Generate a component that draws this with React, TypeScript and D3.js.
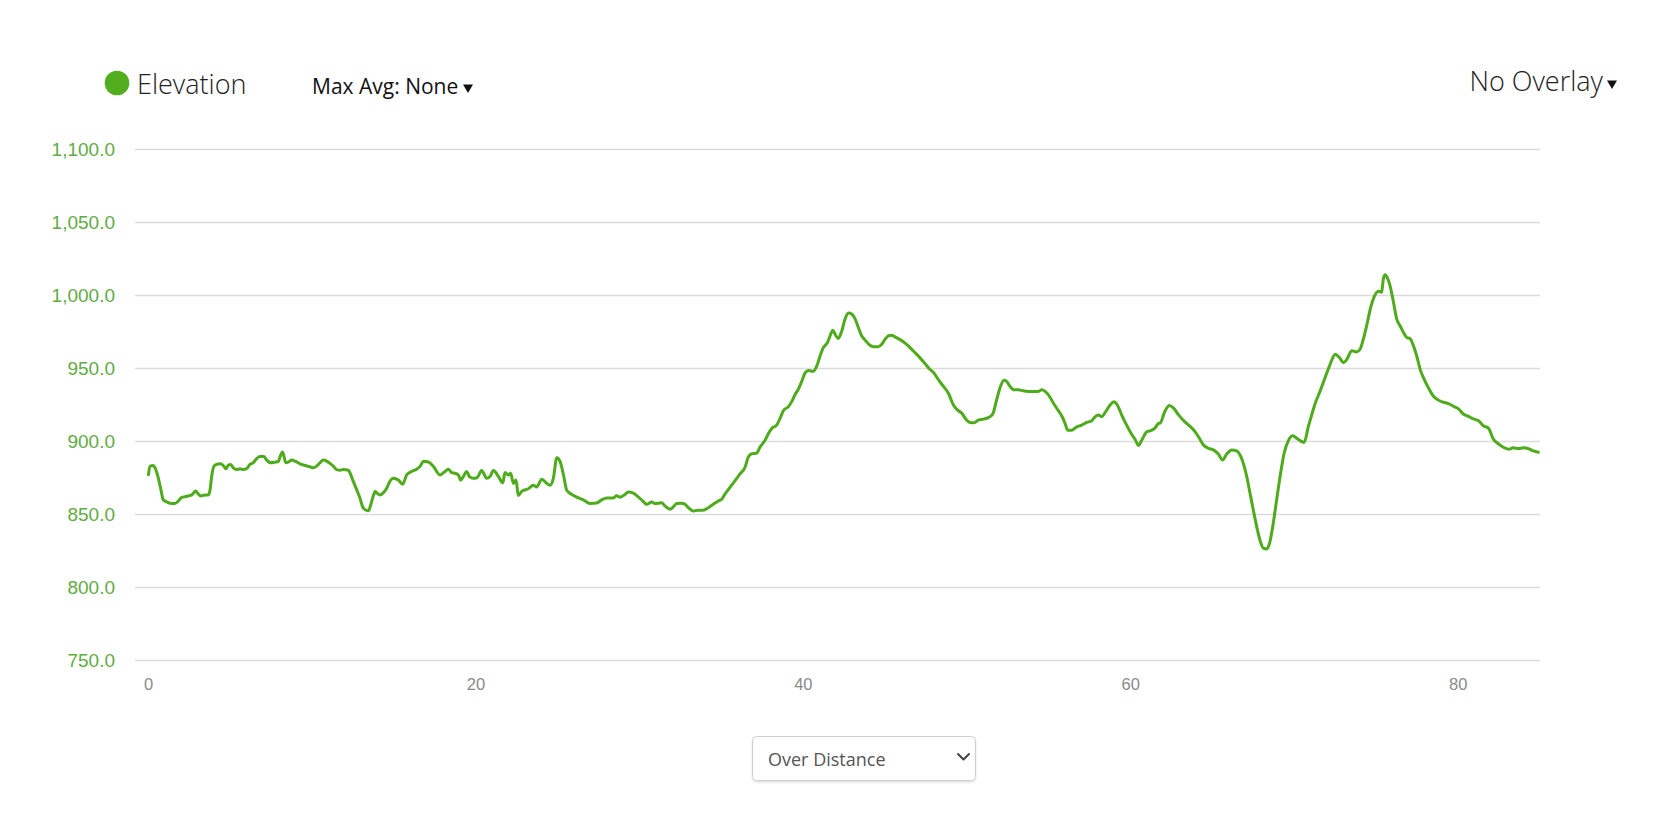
import React from "react";
import * as d3 from "d3";

// Distance along the route (km) and elevation (m)
const distanceKm = [
  0.0, 0.09, 0.3, 0.4, 0.6, 0.74, 0.91, 1.11, 1.42, 1.62, 1.82, 2.03, 2.23, 2.43, 2.63, 2.74, 2.88, 3.04, 3.19, 3.35,
  3.65, 3.76, 3.86, 4.0, 4.16, 4.37, 4.57, 4.73, 4.88, 5.02, 5.18, 5.39, 5.59, 5.79, 6.0, 6.2, 6.4, 6.61, 6.81, 7.06,
  7.22, 7.46, 7.73, 7.93, 8.07, 8.18, 8.28, 8.38, 8.54, 8.75, 8.95, 9.26, 9.56, 9.87, 10.07, 10.27, 10.48, 10.68, 10.88, 11.09,
  11.29, 11.49, 11.7, 11.9, 12.21, 12.31, 12.51, 12.72, 12.92, 13.08, 13.29, 13.43, 13.57, 13.73, 13.84, 13.98, 14.14, 14.35, 14.55, 14.71,
  14.96, 15.26, 15.53, 15.77, 16.08, 16.38, 16.59, 16.79, 17.1, 17.4, 17.81, 18.11, 18.32, 18.52, 18.72, 18.93, 19.07, 19.23, 19.44, 19.6,
  19.84, 20.09, 20.35, 20.66, 20.86, 21.07, 21.38, 21.64, 21.78, 21.98, 22.12, 22.29, 22.45, 22.59, 22.8, 23.2, 23.51, 23.71, 24.02, 24.33,
  24.53, 24.73, 24.94, 25.14, 25.35, 25.55, 25.85, 26.16, 26.57, 26.97, 27.38, 27.68, 27.99, 28.39, 28.6, 28.8, 29.11, 29.31, 29.62, 29.82,
  30.02, 30.23, 30.43, 30.74, 30.94, 31.35, 31.55, 31.86, 32.06, 32.26, 32.57, 32.77, 32.98, 33.28, 33.59, 33.89, 34.2, 34.5, 34.81, 35.01,
  35.21, 35.52, 35.83, 36.13, 36.44, 36.64, 36.85, 37.15, 37.36, 37.66, 37.87, 38.07, 38.37, 38.58, 38.78, 39.09, 39.29, 39.49, 39.7, 39.9,
  40.11, 40.31, 40.61, 40.82, 41.02, 41.22, 41.47, 41.63, 41.8, 41.94, 42.14, 42.35, 42.55, 42.75, 42.96, 43.17, 43.36, 43.57, 43.77, 44.07,
  44.28, 44.58, 44.79, 44.99, 45.19, 45.4, 45.6, 45.81, 46.31, 46.72, 47.13, 47.43, 47.74, 47.94, 48.25, 48.56, 48.86, 49.17, 49.37, 49.68,
  49.98, 50.18, 50.43, 50.69, 51.0, 51.3, 51.57, 51.81, 52.01, 52.26, 52.42, 52.63, 52.87, 53.13, 53.44, 53.75, 54.05, 54.36, 54.56, 54.77,
  55.07, 55.28, 55.58, 55.79, 55.99, 56.15, 56.39, 56.7, 57.01, 57.31, 57.62, 57.82, 58.03, 58.23, 58.43, 58.74, 58.98, 59.18, 59.45, 59.75,
  60.0, 60.27, 60.47, 60.67, 60.98, 61.28, 61.49, 61.69, 61.79, 62.09, 62.36, 62.6, 62.91, 63.22, 63.52, 63.83, 64.13, 64.44, 64.74, 65.05,
  65.35, 65.62, 65.86, 66.17, 66.47, 66.68, 66.88, 67.09, 67.29, 67.49, 67.7, 67.9, 68.1, 68.31, 68.47, 68.67, 68.88, 69.12, 69.37, 69.63,
  69.9, 70.14, 70.45, 70.59, 70.85, 71.06, 71.26, 71.57, 71.87, 72.18, 72.49, 72.75, 73.0, 73.2, 73.51, 73.8, 74.01, 74.21, 74.41, 74.66,
  74.86, 75.13, 75.33, 75.43, 75.54, 75.68, 75.84, 76.05, 76.25, 76.45, 76.66, 76.86, 77.06, 77.27, 77.47, 77.68, 77.88, 78.18, 78.49, 78.8,
  79.1, 79.41, 79.71, 80.02, 80.32, 80.63, 80.93, 81.24, 81.54, 81.85, 82.15, 82.46, 82.76, 83.07, 83.37, 83.68, 83.98, 84.29, 84.6, 84.9,
];

const elevationM = [
  876.7, 882.6, 883.0, 881.4, 874.4, 867.4, 859.3, 858.1, 857.0, 857.0, 858.6, 861.2, 861.6, 862.1, 862.8, 864.0, 865.6, 863.5, 862.1, 862.6,
  862.8, 866.3, 875.6, 882.6, 883.7, 884.2, 883.0, 880.7, 883.3, 883.7, 881.4, 880.2, 880.7, 880.2, 880.9, 883.7, 884.9, 887.7, 889.1, 889.1,
  886.7, 884.9, 885.3, 885.8, 890.0, 892.3, 889.1, 884.9, 885.3, 886.7, 886.0, 884.2, 883.0, 882.1, 881.4, 882.6, 884.9, 886.7, 886.0, 884.4,
  882.6, 880.2, 879.8, 880.2, 879.8, 877.9, 872.1, 866.3, 860.5, 854.7, 852.3, 851.9, 855.8, 862.1, 865.1, 863.9, 862.8, 864.4, 867.4, 871.4,
  874.2, 873.0, 870.2, 876.5, 878.9, 880.5, 882.4, 885.9, 885.4, 882.4, 876.5, 878.9, 880.5, 878.2, 877.7, 876.5, 873.0, 875.4, 878.9, 875.4,
  874.2, 874.9, 879.6, 874.2, 875.4, 879.6, 875.4, 871.1, 878.2, 876.5, 877.7, 870.7, 873.0, 862.4, 865.3, 867.1, 869.5, 868.3, 873.5, 870.7,
  869.5, 874.2, 888.3, 885.9, 876.5, 866.0, 863.2, 861.3, 859.4, 857.0, 857.3, 859.4, 860.8, 860.8, 862.2, 861.3, 863.2, 864.8, 864.1, 862.4,
  860.4, 858.3, 856.4, 858.0, 856.9, 857.4, 855.3, 853.0, 854.6, 856.9, 857.1, 856.4, 854.1, 851.8, 852.3, 852.3, 854.1, 856.4, 858.7, 859.9,
  863.4, 868.0, 872.6, 877.2, 881.8, 888.8, 891.1, 891.5, 895.7, 900.3, 904.9, 908.4, 910.7, 915.3, 920.6, 923.4, 926.8, 931.5, 935.4, 940.7,
  946.5, 948.1, 947.6, 951.1, 958.0, 963.8, 967.2, 971.8, 975.8, 973.0, 970.2, 975.3, 983.4, 987.5, 986.8, 983.4, 977.6, 971.8, 969.1, 965.4,
  964.5, 964.5, 966.1, 969.5, 971.8, 972.3, 971.2, 970.0, 966.1, 961.5, 956.8, 952.9, 948.8, 946.9, 941.8, 937.2, 932.6, 924.5, 921.5, 918.8,
  914.1, 912.5, 912.3, 914.1, 914.8, 915.8, 918.3, 928.0, 936.1, 941.4, 940.7, 937.2, 934.9, 934.9, 934.2, 933.8, 933.8, 933.8, 934.9, 933.8,
  929.8, 925.7, 920.6, 916.9, 911.8, 907.2, 907.2, 909.5, 910.7, 912.5, 913.7, 916.4, 917.6, 916.4, 919.2, 924.5, 926.8, 924.5, 917.6, 910.7,
  905.4, 900.8, 896.8, 900.3, 906.1, 907.2, 908.8, 911.8, 912.0, 920.2, 924.1, 922.5, 917.9, 913.9, 910.9, 907.5, 902.9, 897.1, 894.8, 893.7,
  890.9, 886.8, 890.9, 893.7, 893.0, 890.2, 884.5, 875.3, 863.8, 852.3, 840.8, 831.6, 826.3, 825.8, 829.3, 840.8, 856.9, 875.3, 891.4, 900.1,
  903.4, 901.7, 899.4, 898.8, 909.8, 917.9, 925.4, 934.0, 943.2, 952.4, 959.3, 957.0, 953.5, 955.8, 961.6, 960.9, 962.7, 969.6, 978.8, 991.5,
  998.4, 1002.5, 1001.8, 1011.0, 1013.8, 1011.5, 1006.4, 994.9, 983.4, 978.8, 974.2, 970.8, 970.1, 965.0, 958.1, 948.9, 943.2, 936.3, 930.5, 927.7,
  926.4, 925.4, 923.6, 921.8, 918.3, 916.7, 914.9, 913.7, 910.3, 908.6, 901.1, 897.8, 895.5, 894.2, 895.1, 894.6, 895.1, 894.6, 893.0, 892.1,
];

const yTickValues = [750, 800, 850, 900, 950, 1000, 1050, 1100];
const xTickValues = [0, 20, 40, 60, 80];
const xDomain = [0, 85];
const yDomain = [750, 1100];

const legendLabel = "Elevation";
const maxAvgLabel = "Max Avg: None";
const overlayLabel = "No Overlay";
const modeLabel = "Over Distance";

const GREEN = "#4eab1c";
const LABEL_GREEN = "#62ab45";

export default function App() {
  const W = 1665;
  const H = 814;
  const plotLeft = 135;
  const plotRight = 1540;

  const x = d3.scaleLinear().domain(xDomain).range([148.5, 1540]);
  const y = d3.scaleLinear().domain(yDomain).range([659.5, 149]);

  const points: [number, number][] = distanceKm.map((d, i) => [d, elevationM[i]]);
  const linePath = d3
    .line<[number, number]>()
    .x((d) => x(d[0]))
    .y((d) => y(d[1]))
    .curve(d3.curveMonotoneX)(points) as string;

  const fmtY = d3.format(",.1f");

  return (
    <svg
      width={W}
      height={H}
      style={{ position: "absolute", left: 0, top: 0, display: "block", background: "#fff" }}
    >
      <defs>
        <filter id="selShadow" x="-10%" y="-20%" width="120%" height="160%">
          <feDropShadow dx="0" dy="1.5" stdDeviation="1.2" floodColor="#000" floodOpacity="0.12" />
        </filter>
      </defs>

      {/* Header */}
      <circle cx={117} cy={83} r={12.3} fill="#52ae1f" />
      <text
        x={137}
        y={94}
        fontFamily="'Open Sans', sans-serif"
        fontWeight={300}
        fontSize={27}
        fill="#222"
      >
        {legendLabel}
      </text>
      <text x={312} y={94} fontFamily="'Open Sans', sans-serif" fontSize={21} fill="#111">
        {maxAvgLabel}
      </text>
      <path d="M463,84.5 L473,84.5 L468,93 Z" fill="#111" />

      <text
        x={1603}
        y={91}
        textAnchor="end"
        fontFamily="'Open Sans', sans-serif"
        fontWeight={300}
        fontSize={27}
        fill="#222"
      >
        {overlayLabel}
      </text>
      <path d="M1607,80.5 L1617,80.5 L1612,89 Z" fill="#111" />

      {/* Grid + y labels */}
      <g>
        {yTickValues.map((v) => (
          <g key={v}>
            <line
              x1={plotLeft}
              x2={plotRight}
              y1={Math.round(y(v)) + 0.5}
              y2={Math.round(y(v)) + 0.5}
              stroke="#dcdcdc"
              strokeWidth={1.3}
            />
            <text
              x={115}
              y={y(v) + 7}
              textAnchor="end"
              fontFamily="'Liberation Sans', Arial, sans-serif"
              fontSize={19}
              fill={LABEL_GREEN}
            >
              {fmtY(v)}
            </text>
          </g>
        ))}
      </g>

      {/* X labels */}
      <g>
        {xTickValues.map((t) => (
          <text
            key={t}
            x={x(t)}
            y={690}
            textAnchor="middle"
            fontFamily="'Liberation Sans', Arial, sans-serif"
            fontSize={16.5}
            fill="#8a8a8a"
          >
            {t}
          </text>
        ))}
      </g>

      {/* Elevation line */}
      <path d={linePath} fill="none" stroke={GREEN} strokeWidth={3} strokeLinejoin="round" strokeLinecap="round" />

      {/* Mode select */}
      <g filter="url(#selShadow)">
        <rect x={752.5} y={736.5} width={223} height={44} rx={4} ry={4} fill="#fff" stroke="#cfcfcf" strokeWidth={1} />
      </g>
      <text x={768} y={766} fontFamily="'Open Sans', sans-serif" fontSize={18} fill="#555">
        {modeLabel}
      </text>
      <path d="M958,754 L963.5,759.5 L969,754" fill="none" stroke="#444" strokeWidth={2} strokeLinecap="round" strokeLinejoin="round" />
    </svg>
  );
}
